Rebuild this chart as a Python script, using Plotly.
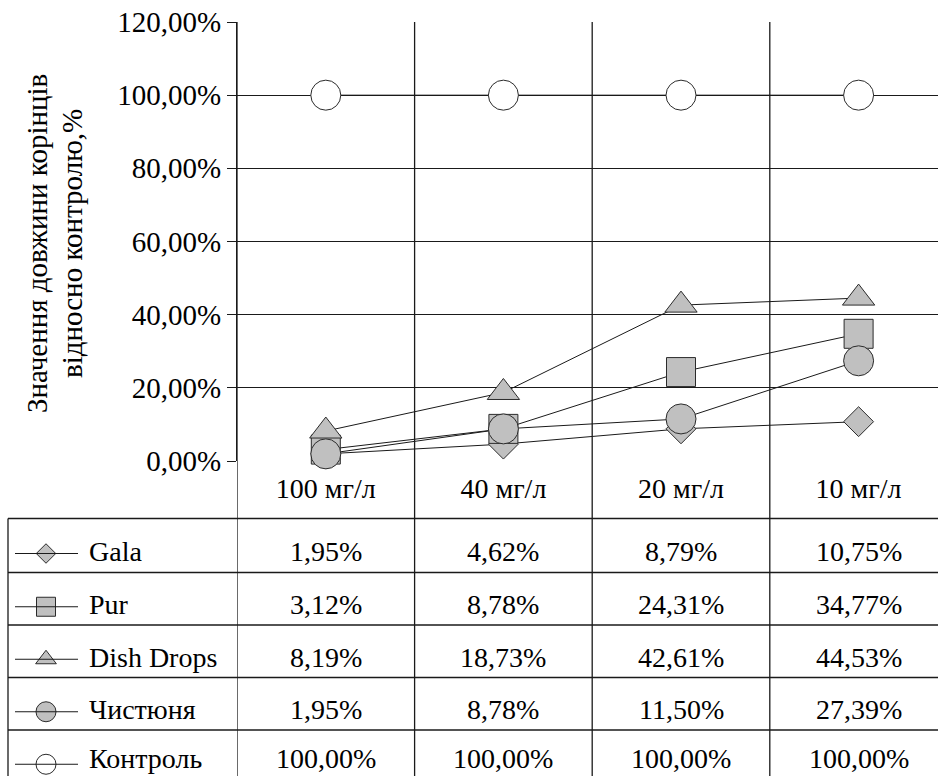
import plotly.graph_objects as go

W, H = 938, 776

categories = ["100 мг/л", "40 мг/л", "20 мг/л", "10 мг/л"]
series_names = ["Gala", "Pur", "Dish Drops", "Чистюня", "Контроль"]
gala = [0.0195, 0.0462, 0.0879, 0.1075]
pur = [0.0312, 0.0878, 0.2431, 0.3477]
dish_drops = [0.0819, 0.1873, 0.4261, 0.4453]
chystiunia = [0.0195, 0.0878, 0.1150, 0.2739]
kontrol = [1.0, 1.0, 1.0, 1.0]
series_values = [gala, pur, dish_drops, chystiunia, kontrol]
y_ticks = [0, 0.2, 0.4, 0.6, 0.8, 1.0, 1.2]
y_title = ["Значення довжини корінців", "відносно контролю,%"]

symbols = ["diamond", "square", "triangle-up", "circle", "circle"]
sizes = [23, 29, 28, 30, 30]
key_sizes = [15, 19, 18, 20, 20]
fills = ["#c0c0c0", "#c0c0c0", "#c0c0c0", "#c0c0c0", "#ffffff"]
EDGE = "#2b2b2b"
FONT = "Liberation Serif, Tinos, Times New Roman, DejaVu Serif, serif"
FS = 28

# pixel geometry
plot_left, plot_top, plot_bottom = 237, 22, 461
col_w = 177.6
x_right = -0.5 + (W - plot_left) / col_w
table_rows = [518.5, 572.5, 625, 677.5, 730, 782.5]
table_left = 8


def py(p):
    return 1 - p / H


fig = go.Figure()

# lines underneath all markers
for name, vals in zip(series_names, series_values):
    fig.add_trace(go.Scatter(x=categories, y=vals, mode="lines",
                             line=dict(color="#1a1a1a", width=1),
                             showlegend=False, hoverinfo="skip",
                             xaxis="x", yaxis="y", cliponaxis=False))
for name, vals, sym, sz, fc in zip(series_names, series_values, symbols, sizes, fills):
    fig.add_trace(go.Scatter(x=categories, y=vals, mode="markers", name=name,
                             marker=dict(symbol=sym, size=sz, color=fc,
                                         line=dict(color=EDGE, width=1)),
                             showlegend=False, xaxis="x", yaxis="y", cliponaxis=False))

shapes = []
# vertical category boundaries extending through table
for b in [-0.5, 0.5, 1.5, 2.5]:
    shapes.append(dict(type="line", xref="x", yref="paper", x0=b, x1=b,
                       y0=0, y1=py(plot_top), line=dict(color="#1a1a1a", width=1.3)))
# table horizontal lines
for r in table_rows[:-1]:
    shapes.append(dict(type="line", xref="paper", yref="paper", x0=table_left / W, x1=1,
                       y0=py(r), y1=py(r), line=dict(color="#1a1a1a", width=1.3)))
# table left border
shapes.append(dict(type="line", xref="paper", yref="paper", x0=table_left / W, x1=table_left / W,
                   y0=0, y1=py(table_rows[0]), line=dict(color="#1a1a1a", width=1.3)))

annotations = []
for i, (name, vals) in enumerate(zip(series_names, series_values)):
    rc = (table_rows[i] + table_rows[i + 1]) / 2
    ty = rc + 6 if i < 4 else rc + 2
    # key line
    shapes.append(dict(type="line", xref="paper", yref="paper", x0=15 / W, x1=78 / W,
                       y0=py(rc + 8), y1=py(rc + 8), line=dict(color="#1a1a1a", width=1)))
    annotations.append(dict(x=87 / W, y=py(ty), xref="paper", yref="paper",
                            text=name, showarrow=False, xanchor="left", yanchor="middle",
                            font=dict(family=FONT, size=FS, color="black")))
    for j, v in enumerate(vals):
        txt = f"{v * 100:.2f}%".replace(".", ",")
        annotations.append(dict(x=j, y=py(ty), xref="x", yref="paper", text=txt,
                                showarrow=False, xanchor="center", yanchor="middle",
                                font=dict(family=FONT, size=FS, color="black")))

# legend key markers on a pixel-space overlay axis
for i, (name, sym, ks, fc) in enumerate(zip(series_names, symbols, key_sizes, fills)):
    rc = (table_rows[i] + table_rows[i + 1]) / 2
    fig.add_trace(go.Scatter(x=[46], y=[rc + 8], mode="markers", xaxis="x2", yaxis="y2",
                             marker=dict(symbol=sym, size=ks, color=fc,
                                         line=dict(color=EDGE, width=1)),
                             showlegend=False, hoverinfo="skip", cliponaxis=False))

# y-axis title (two rotated lines)
for k, (t, xp) in enumerate(zip(y_title, [37, 72])):
    annotations.append(dict(x=xp / W, y=py(244), xref="paper", yref="paper", text=t,
                            textangle=-90, showarrow=False, xanchor="center", yanchor="middle",
                            font=dict(family=FONT, size=FS + 1, color="black")))

fig.update_layout(
    template="none",
    width=W, height=H,
    margin=dict(l=0, r=0, t=0, b=0, pad=0),
    paper_bgcolor="white", plot_bgcolor="rgba(0,0,0,0)",
    separators=", ",
    showlegend=False,
    font=dict(family=FONT, size=FS, color="black"),
    xaxis=dict(type="category", categoryarray=categories, range=[-0.5, x_right],
               domain=[plot_left / W, 1], showgrid=False, zeroline=False, automargin=False,
               showline=False, ticks="", tickfont=dict(family=FONT, size=FS, color="black"),
               ticklabelstandoff=8, anchor="y"),
    yaxis=dict(range=[0, 1.2], domain=[py(plot_bottom), py(plot_top)], automargin=False,
               tickvals=y_ticks, tickformat=".2%", showgrid=True,
               gridcolor="#1a1a1a", gridwidth=1.3, zeroline=False,
               showline=True, linecolor="#1a1a1a", linewidth=1.3,
               ticks="outside", ticklen=9, tickcolor="#1a1a1a", tickwidth=1.3,
               tickfont=dict(family=FONT, size=FS + 1, color="black"), anchor="x"),
    xaxis2=dict(domain=[0, 1], range=[0, W], visible=False, anchor="y2", automargin=False),
    yaxis2=dict(domain=[0, 1], range=[H, 0], visible=False, anchor="x2", automargin=False),
    shapes=shapes, annotations=annotations,
)

fig.write_html("out.html", config={"displayModeBar": False},
               post_script="document.body.style.margin='0';")
